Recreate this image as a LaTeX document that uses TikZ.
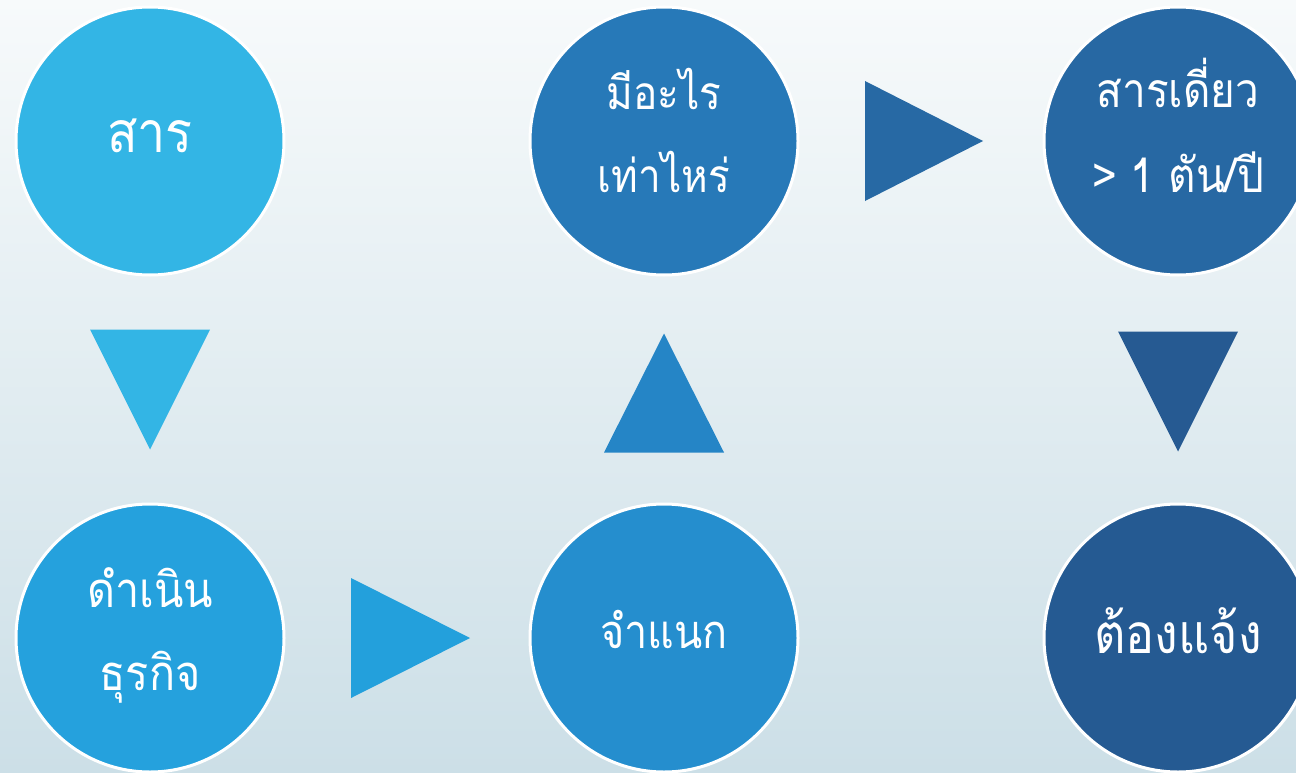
\documentclass[tikz,border=0pt]{standalone}
\usepackage{fontspec}
\newfontfamily\thaifont[Script=Thai,FakeStretch=0.88]{Loma}
\usetikzlibrary{calc}
\definecolor{bgtop}{HTML}{F7FAFB}
\definecolor{bgbot}{HTML}{CCDFE7}
\definecolor{cA}{HTML}{33B5E5}
\definecolor{cB}{HTML}{2779B8}
\definecolor{cC}{HTML}{2768A3}
\definecolor{cD}{HTML}{25A1DD}
\definecolor{cE}{HTML}{258ECE}
\definecolor{cF}{HTML}{255A92}
\definecolor{tA}{HTML}{33B5E5}
\definecolor{tB}{HTML}{23A0DC}
\definecolor{tC}{HTML}{2585C6}
\definecolor{tD}{HTML}{2769A4}
\definecolor{tE}{HTML}{265A92}
\begin{document}
\begin{tikzpicture}[x=1pt,y=-1pt,
  ball/.style={circle,minimum size=268pt,inner sep=0pt,draw=white,line width=3pt},
  lbl/.style={anchor=base,text=white,inner sep=0pt,font=\thaifont\fontsize{#1}{#1}\selectfont}]
\fill[top color=bgtop,bottom color=bgbot] (0,0) rectangle (1296,773);
\useasboundingbox (0,0) rectangle (1296,773);
\clip (0,0) rectangle (1296,773);
% circles
\node[ball,fill=cA] (c1) at (150,141) {};
\node[ball,fill=cB] (c2) at (664,141) {};
\node[ball,fill=cC] (c3) at (1178,141) {};
\node[ball,fill=cD] (c4) at (150,638) {};
\node[ball,fill=cE] (c5) at (664,638) {};
\node[ball,fill=cF] (c6) at (1178,638) {};
% labels
\node[lbl=57] (l1) at ($(c1)+(0,12)$) {สาร};
\node[lbl=46] (l2a) at ($(c2)+(0,-31)$) {มีอะไร};
\node[lbl=46] (l2b) at ($(c2)+(0,52)$) {เท่าไหร่};
\node[lbl=48] (l3a) at ($(c3)+(0,-33)$) {สารเดี่ยว};
\node[lbl=48] (l3b) at ($(c3)+(0,52)$) {> 1 ตัน/ปี};
\node[lbl=49] (l4a) at ($(c4)+(0,-31)$) {ดำเนิน};
\node[lbl=49] (l4b) at ($(c4)+(0,52)$) {ธุรกิจ};
\node[lbl=47] (l5) at ($(c5)+(0,10)$) {จำแนก};
\node[lbl=55] (l6) at ($(c6)+(0,15)$) {ต้องแจ้ง};
% triangle arrows
\coordinate (m14) at ($(c1)!0.5!(c4)$);
\coordinate (m45) at ($(c4)!0.5!(c5)$);
\coordinate (m52) at ($(c5)!0.5!(c2)$);
\coordinate (m23) at ($(c2)!0.5!(c3)$);
\coordinate (m36) at ($(c3)!0.5!(c6)$);
\fill[tA] ($(m14)+(-60,-60)$) -- ($(m14)+(60,-60)$) -- ($(m14)+(0,60)$) -- cycle;
\fill[tB] ($(m45)+(-56,-60)$) -- ($(m45)+(-56,60)$) -- ($(m45)+(63,0)$) -- cycle;
\fill[tC] ($(m52)+(-60,63)$) -- ($(m52)+(60,63)$) -- ($(m52)+(0,-56)$) -- cycle;
\fill[tD] ($(m23)+(-56,-60)$) -- ($(m23)+(-56,60)$) -- ($(m23)+(62,0)$) -- cycle;
\fill[tE] ($(m36)+(-60,-58)$) -- ($(m36)+(60,-58)$) -- ($(m36)+(0,62)$) -- cycle;
\end{tikzpicture}
\end{document}
